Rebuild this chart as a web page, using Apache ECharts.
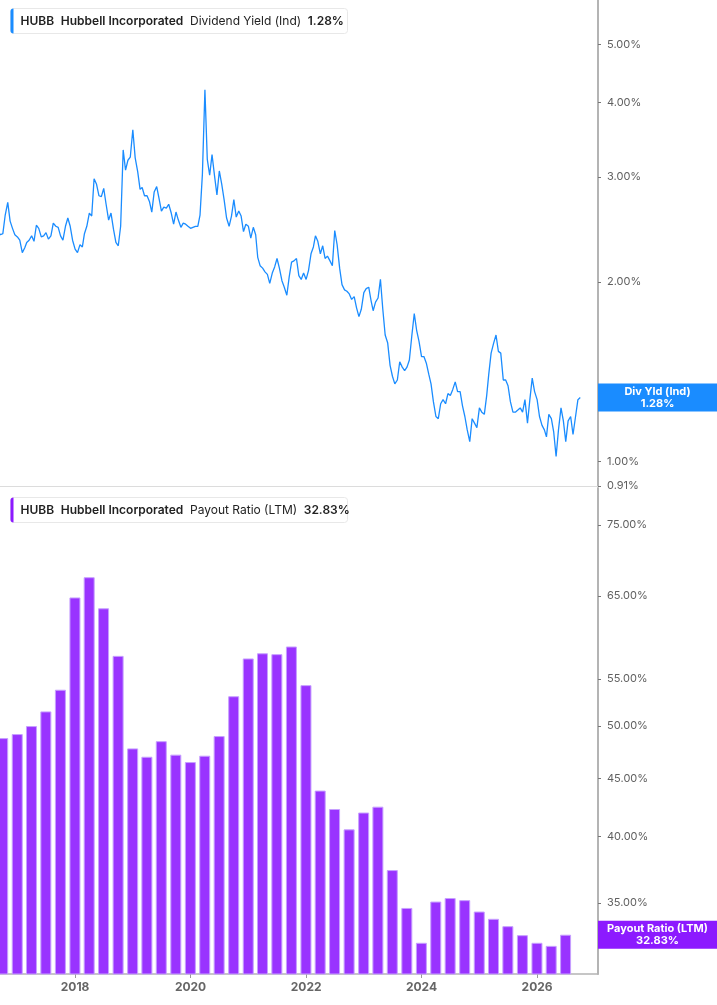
<!DOCTYPE html>
<html>
<head>
<meta charset="utf-8">
<script src="https://cdn.jsdelivr.net/npm/echarts@6/dist/echarts.min.js"></script>
<style>
  html, body { margin: 0; padding: 0; background: #fff; }
  #chart { width: 717px; height: 1005px; }
</style>
</head>
<body>
<div id="chart"></div>
<script>
// Dividend yield (Ind), %, two points a month from Sep 2016 (1st and 16th)
const yieldStartYear = 2016;
const yieldStartMonth = 9;
const yieldDays = [1, 16];
const yieldValues = [
  2.43, 2.40, 2.41, 2.59, 2.72, 2.53, 2.46, 2.40, 2.38, 2.35,
  2.24, 2.28, 2.33, 2.35, 2.39, 2.34, 2.49, 2.46, 2.38, 2.39,
  2.42, 2.36, 2.39, 2.51, 2.48, 2.47, 2.39, 2.35, 2.48, 2.56,
  2.48, 2.35, 2.27, 2.24, 2.31, 2.29, 2.41, 2.48, 2.61, 2.58,
  2.98, 2.92, 2.79, 2.78, 2.87, 2.70, 2.54, 2.61, 2.45, 2.33,
  2.30, 2.48, 3.33, 3.08, 3.20, 3.24, 3.60, 3.23, 3.06, 2.86,
  2.88, 2.79, 2.79, 2.73, 2.62, 2.83, 2.89, 2.76, 2.63, 2.67,
  2.66, 2.70, 2.61, 2.50, 2.62, 2.54, 2.47, 2.51, 2.50, 2.48,
  2.46, 2.47, 2.48, 2.48, 2.59, 3.03, 4.20, 3.21, 3.02, 3.27,
  3.01, 2.80, 3.07, 2.92, 2.74, 2.56, 2.48, 2.58, 2.75, 2.57,
  2.63, 2.58, 2.43, 2.50, 2.48, 2.37, 2.47, 2.40, 2.20, 2.13,
  2.11, 2.08, 2.06, 1.99, 2.07, 2.12, 2.19, 2.11, 2.01, 1.96,
  1.90, 2.04, 2.16, 2.17, 2.19, 2.05, 2.02, 2.07, 2.02, 2.09,
  2.23, 2.29, 2.39, 2.34, 2.23, 2.30, 2.19, 2.21, 2.17, 2.13,
  2.44, 2.31, 2.11, 1.98, 1.94, 1.93, 1.91, 1.87, 1.89, 1.81,
  1.75, 1.80, 1.92, 1.95, 1.96, 1.86, 1.79, 1.85, 1.88, 2.02,
  1.80, 1.63, 1.58, 1.45, 1.39, 1.35, 1.37, 1.47, 1.44, 1.42,
  1.44, 1.48, 1.63, 1.77, 1.66, 1.59, 1.50, 1.50, 1.46, 1.40,
  1.35, 1.26, 1.19, 1.18, 1.25, 1.27, 1.25, 1.30, 1.29, 1.32,
  1.36, 1.31, 1.31, 1.24, 1.19, 1.13, 1.08, 1.18, 1.16, 1.14,
  1.23, 1.21, 1.20, 1.29, 1.40, 1.52, 1.58, 1.63, 1.53, 1.52,
  1.37, 1.37, 1.34, 1.26, 1.21, 1.21, 1.22, 1.23, 1.21, 1.27,
  1.16, 1.27, 1.38, 1.31, 1.27, 1.19, 1.15, 1.13, 1.10, 1.20,
  1.18, 1.12, 1.02, 1.13, 1.23, 1.17, 1.08, 1.17, 1.19, 1.11,
  1.19, 1.27, 1.28
];

// Payout ratio (LTM), %, quarter ends
const payoutDates = [
  '2016-09-30', '2016-12-31', '2017-03-31', '2017-06-30', '2017-09-30',
  '2017-12-31', '2018-03-31', '2018-06-30', '2018-09-30', '2018-12-31',
  '2019-03-31', '2019-06-30', '2019-09-30', '2019-12-31', '2020-03-31',
  '2020-06-30', '2020-09-30', '2020-12-31', '2021-03-31', '2021-06-30',
  '2021-09-30', '2021-12-31', '2022-03-31', '2022-06-30', '2022-09-30',
  '2022-12-31', '2023-03-31', '2023-06-30', '2023-09-30', '2023-12-31',
  '2024-03-31', '2024-06-30', '2024-09-30', '2024-12-31', '2025-03-31',
  '2025-06-30', '2025-09-30', '2025-12-31', '2026-03-31', '2026-06-30'
];
const payoutValues = [
  48.8, 49.2, 50.0, 51.5, 53.8, 64.8, 67.5, 63.4, 57.6, 47.8,
  47.0, 48.5, 47.2, 46.5, 47.1, 49.0, 53.1, 57.3, 57.9, 57.8,
  58.7, 54.3, 43.9, 42.3, 40.6, 42.0, 42.5, 37.4, 34.65, 32.3,
  35.1, 35.35, 35.2, 34.4, 33.9, 33.4, 32.8, 32.3, 32.1, 32.83
];

// axis ticks
const yieldTicks = [0.91, 1, 2, 3, 4, 5];
const payoutTicks = [35, 40, 45, 50, 55, 65, 75];
const yearTicks = ['2018-01-01', '2020-01-01', '2022-01-01', '2024-01-01', '2026-01-01'];

const lastYield = 1.28;
const lastPayout = 32.83;

const ts = d => +echarts.time.parse(d);
const pad = n => (n < 10 ? '0' + n : '' + n);
const yieldData = yieldValues.map((v, i) => {
  const m0 = yieldStartMonth - 1 + Math.floor(i / 2);
  const y = yieldStartYear + Math.floor(m0 / 12);
  const m = (m0 % 12) + 1;
  return [ts(y + '-' + pad(m) + '-' + pad(yieldDays[i % 2])), v];
});
const payoutData = payoutDates.map((d, i) => [ts(d), payoutValues[i]]);
const yearTickValues = yearTicks.map(ts);

const FONT = 'Inter, "Noto Sans", sans-serif';
const xMin = ts('2016-09-13');
const xMax = ts('2027-01-21');

const rightAxis = (gridIndex, min, max, ticks) => ({
  type: 'log',
  logBase: 10,
  gridIndex: gridIndex,
  position: 'right',
  min: min,
  max: max,
  axisLine: { show: true, lineStyle: { color: '#b4b4b4', width: 2 } },
  axisTick: { show: true, length: 3, customValues: ticks, lineStyle: { color: '#777' } },
  axisLabel: {
    customValues: ticks,
    margin: 9,
    color: '#5f5f5f',
    fontSize: 11,
    fontFamily: FONT,
    formatter: v => Number(v).toFixed(2) + '%'
  },
  splitLine: { show: false }
});

// value tag sitting on the right axis at the latest value
const tag = (title, value, color) => ({
  silent: true,
  symbol: ['none', 'none'],
  lineStyle: { color: 'rgba(0,0,0,0)', width: 1, type: 'solid' },
  data: [{ yAxis: value }],
  label: {
    show: true,
    position: 'end',
    distance: 0,
    formatter: '{t|' + title + '}\n{t|' + value.toFixed(2) + '%}',
    backgroundColor: color,
    padding: [2, 0, 2, 0],
    rich: {
      t: { width: 119, align: 'center', color: '#fff', fontWeight: 'bold', fontSize: 11, lineHeight: 12, fontFamily: FONT }
    }
  }
});

const legendBox = (top, color, name, value) => ({
  type: 'group',
  left: 10,
  top: top,
  children: [
    { type: 'rect', shape: { x: 0, y: 0, width: 337, height: 25, r: 3 }, style: { fill: '#fff', stroke: '#e8e8e8', lineWidth: 1 } },
    { type: 'rect', shape: { x: 0, y: 0, width: 3, height: 25, r: [3, 0, 0, 3] }, style: { fill: color } },
    {
      type: 'text', x: 10, y: 12.5,
      style: {
        text: '{b|HUBB}  {b|Hubbell Incorporated}  {n|' + name + '}  {b|' + value + '}',
        verticalAlign: 'middle',
        rich: {
          b: { fontWeight: 600, fontSize: 12, fill: '#222', fontFamily: FONT },
          n: { fontSize: 12, fill: '#222', fontFamily: FONT }
        }
      }
    }
  ]
});

const chart = echarts.init(document.getElementById('chart'));
chart.setOption({
  animation: false,
  grid: [
    { left: 0, right: 119, top: 0, height: 486 },
    { left: 0, right: 119, top: 488, bottom: 31 }
  ],
  xAxis: [
    {
      type: 'value', gridIndex: 0, min: xMin, max: xMax,
      axisLine: { show: true, lineStyle: { color: '#dcdcdc', width: 1 } },
      axisTick: { show: false }, axisLabel: { show: false }, splitLine: { show: false }
    },
    {
      type: 'value', gridIndex: 1, min: xMin, max: xMax,
      axisLine: { show: true, lineStyle: { color: '#b4b4b4', width: 1.5 } },
      axisTick: { show: true, length: 4, customValues: yearTickValues, lineStyle: { color: '#999' } },
      axisLabel: {
        customValues: yearTickValues,
        margin: 7,
        color: '#666',
        fontWeight: 'bold',
        fontSize: 12,
        fontFamily: FONT,
        formatter: v => String(new Date(v).getFullYear())
      },
      splitLine: { show: false }
    }
  ],
  yAxis: [
    rightAxis(0, 0.91, 5.94, yieldTicks),
    rightAxis(1, 30.33, 80.8, payoutTicks)
  ],
  series: [
    {
      name: 'Dividend Yield (Ind)',
      type: 'line',
      xAxisIndex: 0,
      yAxisIndex: 0,
      data: yieldData,
      showSymbol: false,
      lineStyle: { color: '#1a8cff', width: 1.3 },
      markLine: tag('Div Yld (Ind)', lastYield, '#1a8cff')
    },
    {
      name: 'Payout Ratio (LTM)',
      type: 'bar',
      xAxisIndex: 1,
      yAxisIndex: 1,
      data: payoutData,
      barWidth: 11,
      clip: true,
      itemStyle: { color: '#9933ff', borderColor: '#c7a0ff', borderWidth: 1 },
      markLine: tag('Payout Ratio (LTM)', lastPayout, '#8c1aff')
    }
  ],
  graphic: [
    legendBox(8, '#1a8cff', 'Dividend Yield (Ind)', '1.28%'),
    legendBox(497, '#8c1aff', 'Payout Ratio (LTM)', '32.83%')
  ]
});
</script>
</body>
</html>
